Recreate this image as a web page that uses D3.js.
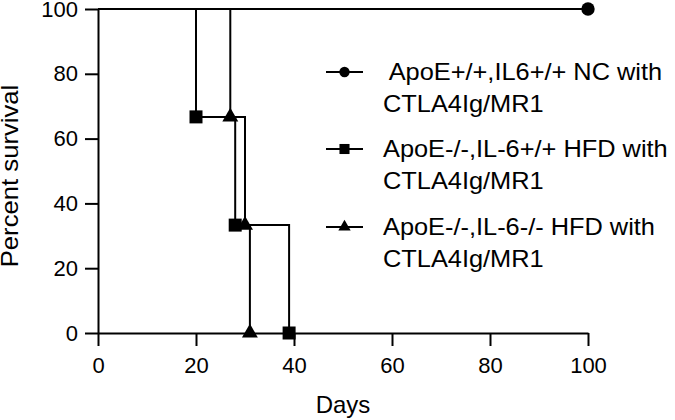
<!DOCTYPE html>
<html>
<head>
<meta charset="utf-8">
<script src="https://cdn.jsdelivr.net/npm/d3@7"></script>
<style>
  body { margin: 0; background: #fff; }
  text { font-family: "Liberation Sans", Arial, sans-serif; fill: #000; }
</style>
</head>
<body>
<svg width="675" height="420"></svg>
<script>
// Kaplan-Meier survival data
var seriesNames = [
  " ApoE+/+,IL6+/+ NC with",
  "ApoE-/-,IL-6+/+ HFD with",
  "ApoE-/-,IL-6-/- HFD with"
];
var seriesSub = "CTLA4Ig/MR1";
var seriesSymbols = ["circle", "square", "triangle"];

var ncDays = [0, 100];
var ncSurvival = [100, 100];
var ncMarks = [100];

var hfdDays = [0, 20, 28, 39];
var hfdSurvival = [100, 66.7, 33.3, 0];
var hfdMarks = [20, 28, 39];

var koDays = [0, 27, 30, 31];
var koSurvival = [100, 66.7, 33.3, 0];
var koMarks = [27, 30, 31];

var xTicks = [0, 20, 40, 60, 80, 100];
var yTicks = [0, 20, 40, 60, 80, 100];

var svg = d3.select("svg");

var x = d3.scaleLinear().domain([0, 100]).range([98, 588]);
var y = d3.scaleLinear().domain([0, 100]).range([333, 9]);

// build series objects from the arrays
function makeSeries(days, surv, marks, sym) {
  var pts = days.map(function(d, i) { return { day: d, pct: surv[i] }; });
  var mk = marks.map(function(m) {
    var i = days.indexOf(m);
    return { day: m, pct: surv[i] };
  });
  return { pts: pts, marks: mk, sym: sym };
}

var series = [
  makeSeries(ncDays, ncSurvival, ncMarks, "circle"),
  makeSeries(hfdDays, hfdSurvival, hfdMarks, "square"),
  makeSeries(koDays, koSurvival, koMarks, "triangle")
];

var symType = {
  circle: d3.symbolCircle,
  square: d3.symbolSquare,
  triangle: d3.symbolTriangle
};
var symSize = { circle: 140, square: 169, triangle: 110 };

// axes
svg.append("g")
    .attr("transform", "translate(98,0)")
    .call(d3.axisLeft(y).tickValues(yTicks).tickSize(13).tickSizeOuter(0).tickPadding(7));

svg.append("g")
    .attr("transform", "translate(0,333)")
    .call(d3.axisBottom(x).tickValues(xTicks).tickSize(13).tickSizeOuter(0).tickPadding(11));

svg.selectAll(".domain, .tick line")
    .attr("stroke", "#000")
    .attr("stroke-width", 2);
svg.selectAll(".tick text")
    .style("font-size", "22px")
    .style("font-family", "'Liberation Sans', Arial, sans-serif")
    .attr("fill", "#000");

// survival steps
var line = d3.line()
    .x(function(d) { return x(d.day); })
    .y(function(d) { return y(d.pct); })
    .curve(d3.curveStepAfter);

var g = svg.append("g");

g.selectAll("path.curve")
    .data(series)
    .enter().append("path")
    .attr("class", "curve")
    .attr("d", function(d) { return line(d.pts); })
    .attr("fill", "none")
    .attr("stroke", "#000")
    .attr("stroke-width", 2);

series.forEach(function(s) {
  g.selectAll(null)
      .data(s.marks)
      .enter().append("path")
      .attr("transform", function(d) {
        return "translate(" + x(d.day) + "," + y(d.pct) + ")";
      })
      .attr("d", d3.symbol().type(symType[s.sym]).size(symSize[s.sym]))
      .attr("fill", "#000");
});

// axis titles
svg.append("text")
    .attr("x", 343)
    .attr("y", 413)
    .attr("text-anchor", "middle")
    .style("font-size", "24px")
    .text("Days");

svg.append("text")
    .attr("transform", "translate(18,176) rotate(-90) scale(1.07,1)")
    .attr("text-anchor", "middle")
    .style("font-size", "24px")
    .text("Percent survival");

// legend
var legendY = [72, 149, 227];
var legend = svg.append("g");

seriesNames.forEach(function(name, i) {
  var ly = legendY[i];
  legend.append("line")
      .attr("x1", 326).attr("x2", 363)
      .attr("y1", ly).attr("y2", ly)
      .attr("stroke", "#000")
      .attr("stroke-width", 2);
  legend.append("path")
      .attr("transform", "translate(344.5," + ly + ")")
      .attr("d", d3.symbol().type(symType[seriesSymbols[i]]).size(symSize[seriesSymbols[i]] * 0.6))
      .attr("fill", "#000");
  legend.append("text")
      .attr("transform", "translate(383," + (ly + 8) + ") scale(1.08,1)")
      .style("font-size", "23.5px")
      .style("white-space", "pre")
      .attr("xml:space", "preserve")
      .text(name);
  legend.append("text")
      .attr("transform", "translate(383," + (ly + 40) + ") scale(1.08,1)")
      .style("font-size", "23.5px")
      .text(seriesSub);
});
</script>
</body>
</html>
